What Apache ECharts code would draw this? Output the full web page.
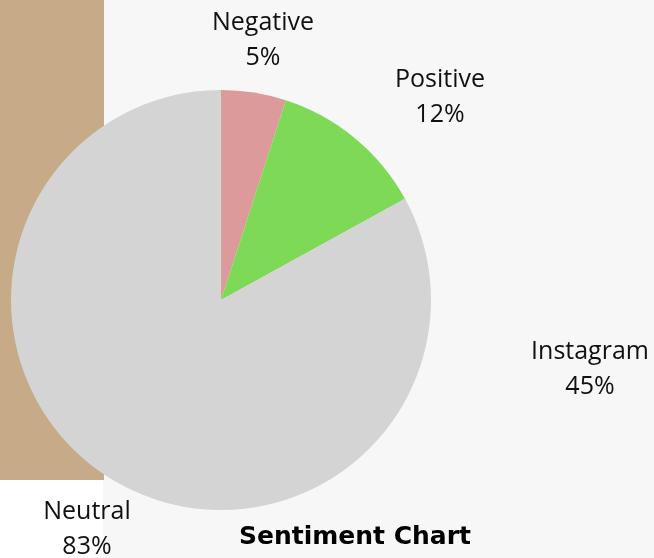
<!DOCTYPE html>
<html>
<head>
<meta charset="utf-8">
<script src="https://cdn.jsdelivr.net/npm/echarts@6/dist/echarts.min.js"></script>
<style>
  html, body { margin: 0; padding: 0; background: #fff; }
</style>
</head>
<body>
<div id="chart" style="width: 654px; height: 558px;"></div>
<script>
// sentiment shares
const categories = ['Negative', 'Positive', 'Neutral'];
const shares = [5, 12, 83];
const sliceColors = ['#dc9a9a', '#7ed957', '#d4d4d4'];
// stray label with no slice of its own
const extraName = 'Instagram';
const extraShare = 45;

// where each slice label sits (centre of the text block)
const labelPos = [[263, 40], [440, 97], [87, 529]];

var myChart = echarts.init(document.getElementById('chart'));
var labelFont = 'Open Sans';

var option = {
  backgroundColor: '#ffffff',
  animation: false,
  graphic: [
    { type: 'rect', z: -10, shape: { x: 103, y: 0, width: 551, height: 558 }, style: { fill: '#f7f7f7' } },
    { type: 'rect', z: -9, shape: { x: 0, y: 0, width: 104, height: 480 }, style: { fill: '#c7aa87' } },
    {
      type: 'text', z: 10, x: 590, y: 369,
      style: {
        text: extraName + '\n' + extraShare + '%',
        align: 'center', verticalAlign: 'middle',
        font: '25px "' + labelFont + '"', lineHeight: 35, fill: '#111'
      }
    },
    {
      type: 'text', z: 10, x: 355, y: 537,
      style: {
        text: 'Sentiment Chart',
        align: 'center', verticalAlign: 'middle',
        font: 'bold 25px "DejaVu Sans"', fill: '#000'
      }
    }
  ],
  series: [
    {
      type: 'pie',
      center: [221, 300],
      radius: 210,
      startAngle: 90,
      clockwise: true,
      silent: true,
      data: categories.map(function (c, i) {
        return { name: c, value: shares[i], itemStyle: { color: sliceColors[i] } };
      }),
      label: {
        show: true,
        formatter: '{b}\n{c}%',
        fontFamily: labelFont,
        fontSize: 25,
        lineHeight: 35,
        color: '#111',
        overflow: 'none'
      },
      labelLine: { show: false },
      labelLayout: function (params) {
        var p = labelPos[params.dataIndex];
        return { x: p[0], y: p[1], align: 'center', verticalAlign: 'middle', hideOverlap: false };
      }
    }
  ]
};
myChart.setOption(option);
</script>
</body>
</html>
